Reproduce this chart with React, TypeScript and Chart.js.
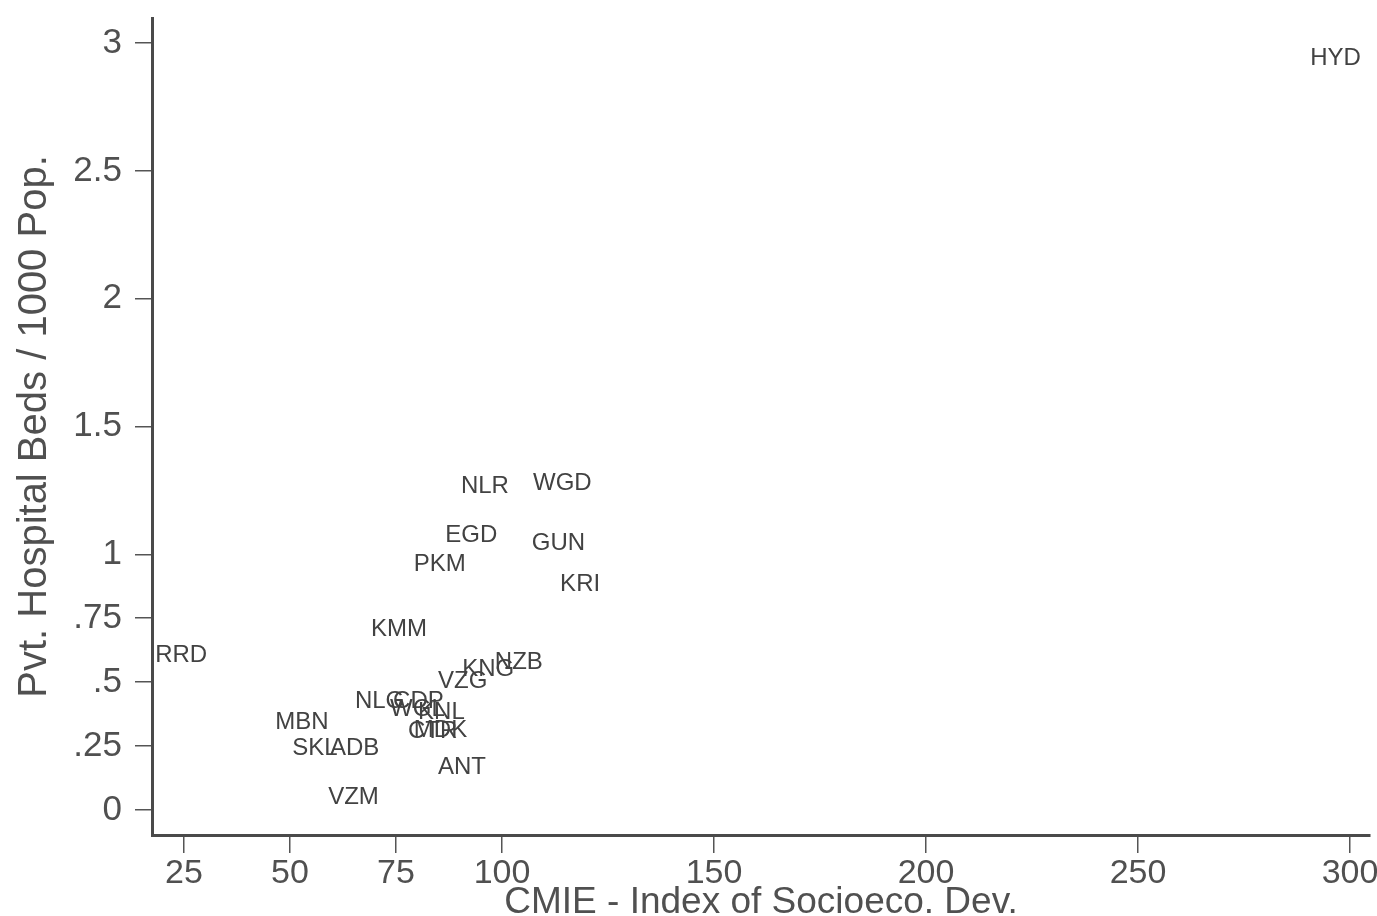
import React, { useEffect, useRef } from "react";
import { Chart, registerables } from "chart.js";

Chart.register(...registerables);

// District codes, CMIE index (x) and private hospital beds per 1000 pop. (y)
const districts = [
  "HYD", "NLR", "WGD", "EGD", "GUN", "PKM", "KRI", "KMM", "RRD", "NZB", "KNG", "VZG",
  "NLG", "CDP", "WGL", "KNL", "CTR", "MDK", "MBN", "SKL", "ADB", "ANT", "VZM",
];
const cmieIndex = [
  290.6, 90.3, 107.3, 86.6, 107.0, 79.2, 113.7, 69.1, 18.2, 98.3, 90.6, 84.9,
  65.3, 74.3, 73.6, 80.2, 77.8, 79.2, 46.5, 50.5, 59.4, 84.9, 59.0,
];
const pvtBeds = [
  2.94, 1.267, 1.279, 1.075, 1.044, 0.962, 0.884, 0.708, 0.606, 0.579, 0.551, 0.504,
  0.426, 0.426, 0.395, 0.383, 0.307, 0.311, 0.344, 0.242, 0.242, 0.168, 0.051,
];

const xTicks = [25, 50, 75, 100, 150, 200, 250, 300];
const yTicks = [0, 0.25, 0.5, 0.75, 1, 1.5, 2, 2.5, 3];
const yTickLabels = ["0", ".25", ".5", ".75", "1", "1.5", "2", "2.5", "3"];

const FONT = "'Liberation Sans', Arial, Helvetica, sans-serif";

const labelPlugin = {
  id: "pointLabels",
  afterDatasetsDraw(chart: any) {
    const ctx = chart.ctx;
    const meta = chart.getDatasetMeta(0);
    ctx.save();
    ctx.font = `24px ${FONT}`;
    ctx.fillStyle = "#424242";
    ctx.textAlign = "left";
    ctx.textBaseline = "middle";
    meta.data.forEach((el: any, i: number) => {
      ctx.fillText(districts[i], el.x, el.y);
    });
    ctx.restore();
  },
};

export default function App() {
  const ref = useRef<HTMLCanvasElement>(null);
  useEffect(() => {
    if (!ref.current) return;
    const chart = new Chart(ref.current, {
      type: "scatter",
      data: {
        datasets: [
          {
            data: cmieIndex.map((x, i) => ({ x, y: pvtBeds[i] })),
            pointRadius: 0,
            pointHoverRadius: 0,
          },
        ],
      },
      options: {
        animation: false,
        responsive: false,
        devicePixelRatio: 1,
        layout: { padding: { top: 18, right: 7, left: 0, bottom: 0 } },
        plugins: { legend: { display: false }, tooltip: { enabled: false } },
        scales: {
          x: {
            type: "linear",
            min: 17.45,
            max: 304.7,
            afterBuildTicks: (s: any) => {
              s.ticks = xTicks.map((v) => ({ value: v }));
            },
            afterFit: (s: any) => {
              s.height = 81;
              s.paddingLeft = 0;
              s.paddingRight = 0;
            },
            grid: { drawOnChartArea: false, drawTicks: true, tickLength: 18, color: "#555", lineWidth: 1.5 },
            border: { display: true, color: "#4a4a4a", width: 3 },
            ticks: {
              padding: 0,
              color: "#505050",
              font: { family: FONT, size: 34 },
              autoSkip: false,
              maxRotation: 0,
            },
            title: {
              display: true,
              text: "CMIE - Index of Socioeco. Dev.",
              color: "#505050",
              font: { family: FONT, size: 37, lineHeight: 0.7 },
              padding: { top: 0, bottom: 0 },
            },
          },
          y: {
            type: "linear",
            min: -0.098,
            max: 3.098,
            afterBuildTicks: (s: any) => {
              s.ticks = yTicks.map((v) => ({ value: v }));
            },
            afterFit: (s: any) => {
              s.width = 152;
              s.paddingTop = 0;
              s.paddingBottom = 0;
            },
            grid: { drawOnChartArea: false, drawTicks: true, tickLength: 17, color: "#555", lineWidth: 1.5 },
            border: { display: true, color: "#4a4a4a", width: 3 },
            ticks: {
              padding: 13,
              color: "#505050",
              font: { family: FONT, size: 35 },
              autoSkip: false,
              callback: (v: any) => {
                const i = yTicks.indexOf(Number(v));
                return i >= 0 ? yTickLabels[i] : "";
              },
            },
            title: {
              display: true,
              text: "Pvt. Hospital Beds / 1000 Pop.",
              color: "#505050",
              font: { family: FONT, size: 40, lineHeight: 1.2 },
              padding: { top: 11, bottom: 0 },
            },
          },
        },
      },
      plugins: [labelPlugin],
    });
    return () => chart.destroy();
  }, []);
  return (
    <div style={{ position: "absolute", left: 0, top: 0, width: 1377, height: 916, background: "#fff" }}>
      <canvas ref={ref} width={1377} height={916} style={{ width: 1377, height: 916, display: "block" }} />
    </div>
  );
}
